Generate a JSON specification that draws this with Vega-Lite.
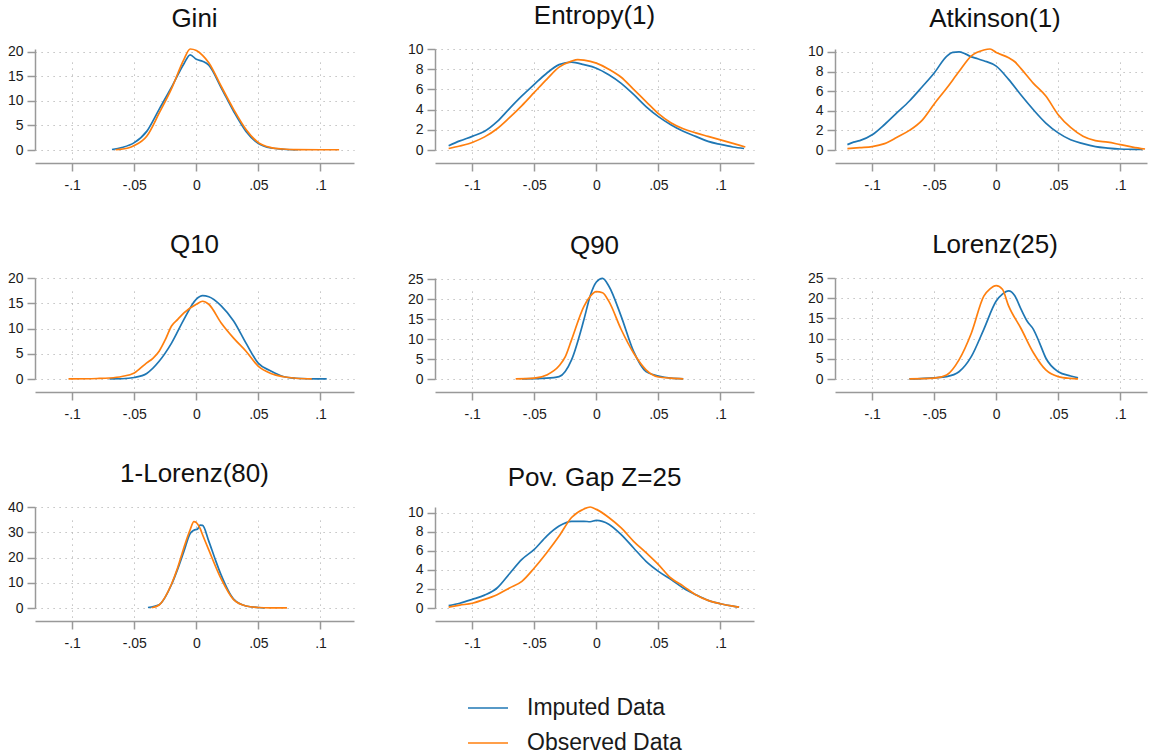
{
"$schema": "https://vega.github.io/schema/vega-lite/v6.json",
"padding": {"left": 7, "top": 3, "right": 0, "bottom": 0},
"data": {"values": [
{"p":"Gini","s":"Imputed Data","x":-0.068,"y":0.1},{"p":"Gini","s":"Imputed Data","x":-0.06,"y":0.5},{"p":"Gini","s":"Imputed Data","x":-0.05,"y":1.5},{"p":"Gini","s":"Imputed Data","x":-0.04,"y":3.8},{"p":"Gini","s":"Imputed Data","x":-0.03,"y":8.3},{"p":"Gini","s":"Imputed Data","x":-0.02,"y":12.8},{"p":"Gini","s":"Imputed Data","x":-0.01,"y":17.6},{"p":"Gini","s":"Imputed Data","x":-0.005,"y":19.4},{"p":"Gini","s":"Imputed Data","x":0,"y":18.5},{"p":"Gini","s":"Imputed Data","x":0.005,"y":18.1},{"p":"Gini","s":"Imputed Data","x":0.01,"y":17.3},{"p":"Gini","s":"Imputed Data","x":0.02,"y":12.7},{"p":"Gini","s":"Imputed Data","x":0.03,"y":7.9},{"p":"Gini","s":"Imputed Data","x":0.04,"y":3.8},{"p":"Gini","s":"Imputed Data","x":0.05,"y":1.3},{"p":"Gini","s":"Imputed Data","x":0.06,"y":0.4},{"p":"Gini","s":"Imputed Data","x":0.07,"y":0.15},{"p":"Gini","s":"Imputed Data","x":0.082,"y":0.05},
{"p":"Gini","s":"Observed Data","x":-0.065,"y":0.05},{"p":"Gini","s":"Observed Data","x":-0.055,"y":0.4},{"p":"Gini","s":"Observed Data","x":-0.05,"y":0.9},{"p":"Gini","s":"Observed Data","x":-0.04,"y":2.8},{"p":"Gini","s":"Observed Data","x":-0.03,"y":7.5},{"p":"Gini","s":"Observed Data","x":-0.02,"y":12.5},{"p":"Gini","s":"Observed Data","x":-0.01,"y":18.5},{"p":"Gini","s":"Observed Data","x":-0.005,"y":20.6},{"p":"Gini","s":"Observed Data","x":0,"y":20.3},{"p":"Gini","s":"Observed Data","x":0.005,"y":19.3},{"p":"Gini","s":"Observed Data","x":0.01,"y":17.8},{"p":"Gini","s":"Observed Data","x":0.02,"y":13.0},{"p":"Gini","s":"Observed Data","x":0.03,"y":8.3},{"p":"Gini","s":"Observed Data","x":0.04,"y":4.2},{"p":"Gini","s":"Observed Data","x":0.05,"y":1.5},{"p":"Gini","s":"Observed Data","x":0.06,"y":0.5},{"p":"Gini","s":"Observed Data","x":0.07,"y":0.2},{"p":"Gini","s":"Observed Data","x":0.08,"y":0.08},{"p":"Gini","s":"Observed Data","x":0.1,"y":0.05},{"p":"Gini","s":"Observed Data","x":0.115,"y":0.05},
{"p":"Entropy(1)","s":"Imputed Data","x":-0.119,"y":0.43},{"p":"Entropy(1)","s":"Imputed Data","x":-0.11,"y":0.9},{"p":"Entropy(1)","s":"Imputed Data","x":-0.1,"y":1.35},{"p":"Entropy(1)","s":"Imputed Data","x":-0.09,"y":1.85},{"p":"Entropy(1)","s":"Imputed Data","x":-0.08,"y":2.8},{"p":"Entropy(1)","s":"Imputed Data","x":-0.07,"y":4.1},{"p":"Entropy(1)","s":"Imputed Data","x":-0.06,"y":5.35},{"p":"Entropy(1)","s":"Imputed Data","x":-0.05,"y":6.5},{"p":"Entropy(1)","s":"Imputed Data","x":-0.04,"y":7.6},{"p":"Entropy(1)","s":"Imputed Data","x":-0.03,"y":8.45},{"p":"Entropy(1)","s":"Imputed Data","x":-0.02,"y":8.7},{"p":"Entropy(1)","s":"Imputed Data","x":-0.01,"y":8.45},{"p":"Entropy(1)","s":"Imputed Data","x":0,"y":8.1},{"p":"Entropy(1)","s":"Imputed Data","x":0.01,"y":7.45},{"p":"Entropy(1)","s":"Imputed Data","x":0.02,"y":6.6},{"p":"Entropy(1)","s":"Imputed Data","x":0.03,"y":5.5},{"p":"Entropy(1)","s":"Imputed Data","x":0.04,"y":4.3},{"p":"Entropy(1)","s":"Imputed Data","x":0.05,"y":3.3},{"p":"Entropy(1)","s":"Imputed Data","x":0.06,"y":2.5},{"p":"Entropy(1)","s":"Imputed Data","x":0.07,"y":1.85},{"p":"Entropy(1)","s":"Imputed Data","x":0.08,"y":1.35},{"p":"Entropy(1)","s":"Imputed Data","x":0.09,"y":0.85},{"p":"Entropy(1)","s":"Imputed Data","x":0.1,"y":0.55},{"p":"Entropy(1)","s":"Imputed Data","x":0.11,"y":0.3},{"p":"Entropy(1)","s":"Imputed Data","x":0.119,"y":0.15},
{"p":"Entropy(1)","s":"Observed Data","x":-0.119,"y":0.15},{"p":"Entropy(1)","s":"Observed Data","x":-0.11,"y":0.4},{"p":"Entropy(1)","s":"Observed Data","x":-0.1,"y":0.75},{"p":"Entropy(1)","s":"Observed Data","x":-0.09,"y":1.3},{"p":"Entropy(1)","s":"Observed Data","x":-0.08,"y":2.1},{"p":"Entropy(1)","s":"Observed Data","x":-0.07,"y":3.2},{"p":"Entropy(1)","s":"Observed Data","x":-0.06,"y":4.4},{"p":"Entropy(1)","s":"Observed Data","x":-0.05,"y":5.7},{"p":"Entropy(1)","s":"Observed Data","x":-0.04,"y":7.0},{"p":"Entropy(1)","s":"Observed Data","x":-0.03,"y":8.2},{"p":"Entropy(1)","s":"Observed Data","x":-0.02,"y":8.8},{"p":"Entropy(1)","s":"Observed Data","x":-0.015,"y":8.95},{"p":"Entropy(1)","s":"Observed Data","x":-0.01,"y":8.9},{"p":"Entropy(1)","s":"Observed Data","x":0,"y":8.6},{"p":"Entropy(1)","s":"Observed Data","x":0.01,"y":8.0},{"p":"Entropy(1)","s":"Observed Data","x":0.02,"y":7.2},{"p":"Entropy(1)","s":"Observed Data","x":0.03,"y":6.0},{"p":"Entropy(1)","s":"Observed Data","x":0.04,"y":4.8},{"p":"Entropy(1)","s":"Observed Data","x":0.05,"y":3.6},{"p":"Entropy(1)","s":"Observed Data","x":0.06,"y":2.7},{"p":"Entropy(1)","s":"Observed Data","x":0.07,"y":2.1},{"p":"Entropy(1)","s":"Observed Data","x":0.08,"y":1.7},{"p":"Entropy(1)","s":"Observed Data","x":0.09,"y":1.35},{"p":"Entropy(1)","s":"Observed Data","x":0.1,"y":1.0},{"p":"Entropy(1)","s":"Observed Data","x":0.11,"y":0.65},{"p":"Entropy(1)","s":"Observed Data","x":0.12,"y":0.3},
{"p":"Atkinson(1)","s":"Imputed Data","x":-0.12,"y":0.55},{"p":"Atkinson(1)","s":"Imputed Data","x":-0.115,"y":0.8},{"p":"Atkinson(1)","s":"Imputed Data","x":-0.11,"y":0.95},{"p":"Atkinson(1)","s":"Imputed Data","x":-0.1,"y":1.55},{"p":"Atkinson(1)","s":"Imputed Data","x":-0.09,"y":2.6},{"p":"Atkinson(1)","s":"Imputed Data","x":-0.08,"y":3.8},{"p":"Atkinson(1)","s":"Imputed Data","x":-0.07,"y":5.0},{"p":"Atkinson(1)","s":"Imputed Data","x":-0.06,"y":6.4},{"p":"Atkinson(1)","s":"Imputed Data","x":-0.05,"y":7.85},{"p":"Atkinson(1)","s":"Imputed Data","x":-0.04,"y":9.55},{"p":"Atkinson(1)","s":"Imputed Data","x":-0.035,"y":9.95},{"p":"Atkinson(1)","s":"Imputed Data","x":-0.03,"y":10.0},{"p":"Atkinson(1)","s":"Imputed Data","x":-0.025,"y":9.8},{"p":"Atkinson(1)","s":"Imputed Data","x":-0.02,"y":9.5},{"p":"Atkinson(1)","s":"Imputed Data","x":-0.015,"y":9.3},{"p":"Atkinson(1)","s":"Imputed Data","x":-0.01,"y":9.1},{"p":"Atkinson(1)","s":"Imputed Data","x":0,"y":8.55},{"p":"Atkinson(1)","s":"Imputed Data","x":0.01,"y":7.2},{"p":"Atkinson(1)","s":"Imputed Data","x":0.02,"y":5.6},{"p":"Atkinson(1)","s":"Imputed Data","x":0.03,"y":4.1},{"p":"Atkinson(1)","s":"Imputed Data","x":0.04,"y":2.75},{"p":"Atkinson(1)","s":"Imputed Data","x":0.05,"y":1.75},{"p":"Atkinson(1)","s":"Imputed Data","x":0.06,"y":1.05},{"p":"Atkinson(1)","s":"Imputed Data","x":0.07,"y":0.65},{"p":"Atkinson(1)","s":"Imputed Data","x":0.08,"y":0.35},{"p":"Atkinson(1)","s":"Imputed Data","x":0.09,"y":0.2},{"p":"Atkinson(1)","s":"Imputed Data","x":0.1,"y":0.1},{"p":"Atkinson(1)","s":"Imputed Data","x":0.11,"y":0.07},{"p":"Atkinson(1)","s":"Imputed Data","x":0.118,"y":0.05},
{"p":"Atkinson(1)","s":"Observed Data","x":-0.12,"y":0.15},{"p":"Atkinson(1)","s":"Observed Data","x":-0.11,"y":0.25},{"p":"Atkinson(1)","s":"Observed Data","x":-0.1,"y":0.35},{"p":"Atkinson(1)","s":"Observed Data","x":-0.09,"y":0.65},{"p":"Atkinson(1)","s":"Observed Data","x":-0.08,"y":1.3},{"p":"Atkinson(1)","s":"Observed Data","x":-0.07,"y":2.0},{"p":"Atkinson(1)","s":"Observed Data","x":-0.06,"y":3.0},{"p":"Atkinson(1)","s":"Observed Data","x":-0.05,"y":4.7},{"p":"Atkinson(1)","s":"Observed Data","x":-0.04,"y":6.3},{"p":"Atkinson(1)","s":"Observed Data","x":-0.03,"y":8.0},{"p":"Atkinson(1)","s":"Observed Data","x":-0.02,"y":9.6},{"p":"Atkinson(1)","s":"Observed Data","x":-0.01,"y":10.2},{"p":"Atkinson(1)","s":"Observed Data","x":-0.005,"y":10.3},{"p":"Atkinson(1)","s":"Observed Data","x":0,"y":9.95},{"p":"Atkinson(1)","s":"Observed Data","x":0.01,"y":9.4},{"p":"Atkinson(1)","s":"Observed Data","x":0.015,"y":9.0},{"p":"Atkinson(1)","s":"Observed Data","x":0.02,"y":8.3},{"p":"Atkinson(1)","s":"Observed Data","x":0.03,"y":6.8},{"p":"Atkinson(1)","s":"Observed Data","x":0.04,"y":5.5},{"p":"Atkinson(1)","s":"Observed Data","x":0.05,"y":3.6},{"p":"Atkinson(1)","s":"Observed Data","x":0.06,"y":2.3},{"p":"Atkinson(1)","s":"Observed Data","x":0.07,"y":1.4},{"p":"Atkinson(1)","s":"Observed Data","x":0.08,"y":0.95},{"p":"Atkinson(1)","s":"Observed Data","x":0.09,"y":0.8},{"p":"Atkinson(1)","s":"Observed Data","x":0.1,"y":0.55},{"p":"Atkinson(1)","s":"Observed Data","x":0.11,"y":0.3},{"p":"Atkinson(1)","s":"Observed Data","x":0.12,"y":0.1},
{"p":"Q10","s":"Imputed Data","x":-0.07,"y":0.02},{"p":"Q10","s":"Imputed Data","x":-0.06,"y":0.05},{"p":"Q10","s":"Imputed Data","x":-0.05,"y":0.3},{"p":"Q10","s":"Imputed Data","x":-0.04,"y":1.1},{"p":"Q10","s":"Imputed Data","x":-0.03,"y":3.5},{"p":"Q10","s":"Imputed Data","x":-0.02,"y":7.1},{"p":"Q10","s":"Imputed Data","x":-0.01,"y":11.8},{"p":"Q10","s":"Imputed Data","x":0,"y":15.8},{"p":"Q10","s":"Imputed Data","x":0.005,"y":16.5},{"p":"Q10","s":"Imputed Data","x":0.01,"y":16.3},{"p":"Q10","s":"Imputed Data","x":0.02,"y":14.5},{"p":"Q10","s":"Imputed Data","x":0.03,"y":11.5},{"p":"Q10","s":"Imputed Data","x":0.04,"y":7.1},{"p":"Q10","s":"Imputed Data","x":0.05,"y":3.1},{"p":"Q10","s":"Imputed Data","x":0.06,"y":1.6},{"p":"Q10","s":"Imputed Data","x":0.07,"y":0.5},{"p":"Q10","s":"Imputed Data","x":0.08,"y":0.15},{"p":"Q10","s":"Imputed Data","x":0.09,"y":0.05},{"p":"Q10","s":"Imputed Data","x":0.105,"y":0.02},
{"p":"Q10","s":"Observed Data","x":-0.103,"y":0.02},{"p":"Q10","s":"Observed Data","x":-0.08,"y":0.1},{"p":"Q10","s":"Observed Data","x":-0.07,"y":0.2},{"p":"Q10","s":"Observed Data","x":-0.06,"y":0.5},{"p":"Q10","s":"Observed Data","x":-0.05,"y":1.2},{"p":"Q10","s":"Observed Data","x":-0.04,"y":3.2},{"p":"Q10","s":"Observed Data","x":-0.035,"y":4.1},{"p":"Q10","s":"Observed Data","x":-0.03,"y":5.5},{"p":"Q10","s":"Observed Data","x":-0.025,"y":7.8},{"p":"Q10","s":"Observed Data","x":-0.02,"y":10.5},{"p":"Q10","s":"Observed Data","x":-0.015,"y":11.8},{"p":"Q10","s":"Observed Data","x":-0.01,"y":13.1},{"p":"Q10","s":"Observed Data","x":0,"y":14.8},{"p":"Q10","s":"Observed Data","x":0.005,"y":15.4},{"p":"Q10","s":"Observed Data","x":0.01,"y":14.8},{"p":"Q10","s":"Observed Data","x":0.02,"y":11.1},{"p":"Q10","s":"Observed Data","x":0.03,"y":8.1},{"p":"Q10","s":"Observed Data","x":0.04,"y":5.5},{"p":"Q10","s":"Observed Data","x":0.05,"y":2.5},{"p":"Q10","s":"Observed Data","x":0.06,"y":1.1},{"p":"Q10","s":"Observed Data","x":0.07,"y":0.45},{"p":"Q10","s":"Observed Data","x":0.08,"y":0.15},{"p":"Q10","s":"Observed Data","x":0.093,"y":0.03},
{"p":"Q90","s":"Imputed Data","x":-0.06,"y":0.02},{"p":"Q90","s":"Imputed Data","x":-0.04,"y":0.2},{"p":"Q90","s":"Imputed Data","x":-0.03,"y":0.6},{"p":"Q90","s":"Imputed Data","x":-0.02,"y":4.8},{"p":"Q90","s":"Imputed Data","x":-0.01,"y":14.9},{"p":"Q90","s":"Imputed Data","x":-0.005,"y":20.8},{"p":"Q90","s":"Imputed Data","x":0,"y":24.3},{"p":"Q90","s":"Imputed Data","x":0.005,"y":25.2},{"p":"Q90","s":"Imputed Data","x":0.01,"y":23.3},{"p":"Q90","s":"Imputed Data","x":0.02,"y":15.7},{"p":"Q90","s":"Imputed Data","x":0.03,"y":6.9},{"p":"Q90","s":"Imputed Data","x":0.04,"y":1.85},{"p":"Q90","s":"Imputed Data","x":0.05,"y":0.75},{"p":"Q90","s":"Imputed Data","x":0.06,"y":0.2},{"p":"Q90","s":"Imputed Data","x":0.07,"y":0.05},
{"p":"Q90","s":"Observed Data","x":-0.065,"y":0.02},{"p":"Q90","s":"Observed Data","x":-0.05,"y":0.2},{"p":"Q90","s":"Observed Data","x":-0.04,"y":1.0},{"p":"Q90","s":"Observed Data","x":-0.03,"y":3.3},{"p":"Q90","s":"Observed Data","x":-0.025,"y":5.6},{"p":"Q90","s":"Observed Data","x":-0.02,"y":9.8},{"p":"Q90","s":"Observed Data","x":-0.01,"y":18.2},{"p":"Q90","s":"Observed Data","x":-0.005,"y":20.7},{"p":"Q90","s":"Observed Data","x":0,"y":21.9},{"p":"Q90","s":"Observed Data","x":0.005,"y":21.6},{"p":"Q90","s":"Observed Data","x":0.01,"y":19.5},{"p":"Q90","s":"Observed Data","x":0.02,"y":12.4},{"p":"Q90","s":"Observed Data","x":0.03,"y":6.5},{"p":"Q90","s":"Observed Data","x":0.04,"y":2.3},{"p":"Q90","s":"Observed Data","x":0.05,"y":0.5},{"p":"Q90","s":"Observed Data","x":0.06,"y":0.2},{"p":"Q90","s":"Observed Data","x":0.07,"y":0.05},
{"p":"Lorenz(25)","s":"Imputed Data","x":-0.07,"y":0.02},{"p":"Lorenz(25)","s":"Imputed Data","x":-0.05,"y":0.3},{"p":"Lorenz(25)","s":"Imputed Data","x":-0.04,"y":0.6},{"p":"Lorenz(25)","s":"Imputed Data","x":-0.03,"y":1.8},{"p":"Lorenz(25)","s":"Imputed Data","x":-0.02,"y":5.6},{"p":"Lorenz(25)","s":"Imputed Data","x":-0.01,"y":12.3},{"p":"Lorenz(25)","s":"Imputed Data","x":0,"y":19.3},{"p":"Lorenz(25)","s":"Imputed Data","x":0.005,"y":21.0},{"p":"Lorenz(25)","s":"Imputed Data","x":0.01,"y":21.8},{"p":"Lorenz(25)","s":"Imputed Data","x":0.015,"y":20.6},{"p":"Lorenz(25)","s":"Imputed Data","x":0.02,"y":17.3},{"p":"Lorenz(25)","s":"Imputed Data","x":0.025,"y":14.3},{"p":"Lorenz(25)","s":"Imputed Data","x":0.03,"y":12.3},{"p":"Lorenz(25)","s":"Imputed Data","x":0.035,"y":8.9},{"p":"Lorenz(25)","s":"Imputed Data","x":0.04,"y":5.2},{"p":"Lorenz(25)","s":"Imputed Data","x":0.05,"y":1.8},{"p":"Lorenz(25)","s":"Imputed Data","x":0.06,"y":0.75},{"p":"Lorenz(25)","s":"Imputed Data","x":0.066,"y":0.3},
{"p":"Lorenz(25)","s":"Observed Data","x":-0.07,"y":0.02},{"p":"Lorenz(25)","s":"Observed Data","x":-0.05,"y":0.2},{"p":"Lorenz(25)","s":"Observed Data","x":-0.04,"y":1.0},{"p":"Lorenz(25)","s":"Observed Data","x":-0.03,"y":4.75},{"p":"Lorenz(25)","s":"Observed Data","x":-0.02,"y":11.4},{"p":"Lorenz(25)","s":"Observed Data","x":-0.01,"y":20.5},{"p":"Lorenz(25)","s":"Observed Data","x":-0.005,"y":22.3},{"p":"Lorenz(25)","s":"Observed Data","x":0,"y":23.1},{"p":"Lorenz(25)","s":"Observed Data","x":0.005,"y":22.2},{"p":"Lorenz(25)","s":"Observed Data","x":0.01,"y":18.1},{"p":"Lorenz(25)","s":"Observed Data","x":0.02,"y":12.5},{"p":"Lorenz(25)","s":"Observed Data","x":0.03,"y":6.5},{"p":"Lorenz(25)","s":"Observed Data","x":0.04,"y":2.25},{"p":"Lorenz(25)","s":"Observed Data","x":0.05,"y":0.6},{"p":"Lorenz(25)","s":"Observed Data","x":0.06,"y":0.15},{"p":"Lorenz(25)","s":"Observed Data","x":0.066,"y":0.05},
{"p":"1-Lorenz(80)","s":"Imputed Data","x":-0.039,"y":0.2},{"p":"1-Lorenz(80)","s":"Imputed Data","x":-0.03,"y":1.3},{"p":"1-Lorenz(80)","s":"Imputed Data","x":-0.02,"y":9.3},{"p":"1-Lorenz(80)","s":"Imputed Data","x":-0.015,"y":15.5},{"p":"1-Lorenz(80)","s":"Imputed Data","x":-0.01,"y":22.5},{"p":"1-Lorenz(80)","s":"Imputed Data","x":-0.005,"y":29.5},{"p":"1-Lorenz(80)","s":"Imputed Data","x":-0.002,"y":30.8},{"p":"1-Lorenz(80)","s":"Imputed Data","x":0.001,"y":31.3},{"p":"1-Lorenz(80)","s":"Imputed Data","x":0.003,"y":32.8},{"p":"1-Lorenz(80)","s":"Imputed Data","x":0.005,"y":32.7},{"p":"1-Lorenz(80)","s":"Imputed Data","x":0.01,"y":26.5},{"p":"1-Lorenz(80)","s":"Imputed Data","x":0.015,"y":19.5},{"p":"1-Lorenz(80)","s":"Imputed Data","x":0.02,"y":13},{"p":"1-Lorenz(80)","s":"Imputed Data","x":0.03,"y":3.5},{"p":"1-Lorenz(80)","s":"Imputed Data","x":0.04,"y":0.8},{"p":"1-Lorenz(80)","s":"Imputed Data","x":0.05,"y":0.2},{"p":"1-Lorenz(80)","s":"Imputed Data","x":0.055,"y":0.05},
{"p":"1-Lorenz(80)","s":"Observed Data","x":-0.036,"y":0.1},{"p":"1-Lorenz(80)","s":"Observed Data","x":-0.03,"y":1.2},{"p":"1-Lorenz(80)","s":"Observed Data","x":-0.02,"y":9.5},{"p":"1-Lorenz(80)","s":"Observed Data","x":-0.015,"y":16},{"p":"1-Lorenz(80)","s":"Observed Data","x":-0.01,"y":24},{"p":"1-Lorenz(80)","s":"Observed Data","x":-0.005,"y":31},{"p":"1-Lorenz(80)","s":"Observed Data","x":-0.002,"y":34.2},{"p":"1-Lorenz(80)","s":"Observed Data","x":0,"y":33.8},{"p":"1-Lorenz(80)","s":"Observed Data","x":0.003,"y":31.5},{"p":"1-Lorenz(80)","s":"Observed Data","x":0.005,"y":29},{"p":"1-Lorenz(80)","s":"Observed Data","x":0.01,"y":23},{"p":"1-Lorenz(80)","s":"Observed Data","x":0.02,"y":11.5},{"p":"1-Lorenz(80)","s":"Observed Data","x":0.03,"y":3.3},{"p":"1-Lorenz(80)","s":"Observed Data","x":0.04,"y":0.8},{"p":"1-Lorenz(80)","s":"Observed Data","x":0.05,"y":0.2},{"p":"1-Lorenz(80)","s":"Observed Data","x":0.06,"y":0.05},{"p":"1-Lorenz(80)","s":"Observed Data","x":0.073,"y":0.02},
{"p":"Pov. Gap Z=25","s":"Imputed Data","x":-0.119,"y":0.25},{"p":"Pov. Gap Z=25","s":"Imputed Data","x":-0.11,"y":0.5},{"p":"Pov. Gap Z=25","s":"Imputed Data","x":-0.1,"y":0.9},{"p":"Pov. Gap Z=25","s":"Imputed Data","x":-0.09,"y":1.35},{"p":"Pov. Gap Z=25","s":"Imputed Data","x":-0.08,"y":2.1},{"p":"Pov. Gap Z=25","s":"Imputed Data","x":-0.07,"y":3.6},{"p":"Pov. Gap Z=25","s":"Imputed Data","x":-0.06,"y":5.1},{"p":"Pov. Gap Z=25","s":"Imputed Data","x":-0.05,"y":6.15},{"p":"Pov. Gap Z=25","s":"Imputed Data","x":-0.04,"y":7.55},{"p":"Pov. Gap Z=25","s":"Imputed Data","x":-0.03,"y":8.6},{"p":"Pov. Gap Z=25","s":"Imputed Data","x":-0.02,"y":9.1},{"p":"Pov. Gap Z=25","s":"Imputed Data","x":-0.01,"y":9.1},{"p":"Pov. Gap Z=25","s":"Imputed Data","x":-0.005,"y":9.05},{"p":"Pov. Gap Z=25","s":"Imputed Data","x":0,"y":9.2},{"p":"Pov. Gap Z=25","s":"Imputed Data","x":0.01,"y":8.8},{"p":"Pov. Gap Z=25","s":"Imputed Data","x":0.02,"y":7.7},{"p":"Pov. Gap Z=25","s":"Imputed Data","x":0.03,"y":6.3},{"p":"Pov. Gap Z=25","s":"Imputed Data","x":0.04,"y":4.9},{"p":"Pov. Gap Z=25","s":"Imputed Data","x":0.05,"y":3.85},{"p":"Pov. Gap Z=25","s":"Imputed Data","x":0.06,"y":3.0},{"p":"Pov. Gap Z=25","s":"Imputed Data","x":0.07,"y":2.1},{"p":"Pov. Gap Z=25","s":"Imputed Data","x":0.08,"y":1.4},{"p":"Pov. Gap Z=25","s":"Imputed Data","x":0.09,"y":0.8},{"p":"Pov. Gap Z=25","s":"Imputed Data","x":0.1,"y":0.45},{"p":"Pov. Gap Z=25","s":"Imputed Data","x":0.11,"y":0.2},{"p":"Pov. Gap Z=25","s":"Imputed Data","x":0.115,"y":0.1},
{"p":"Pov. Gap Z=25","s":"Observed Data","x":-0.119,"y":0.1},{"p":"Pov. Gap Z=25","s":"Observed Data","x":-0.11,"y":0.3},{"p":"Pov. Gap Z=25","s":"Observed Data","x":-0.1,"y":0.5},{"p":"Pov. Gap Z=25","s":"Observed Data","x":-0.09,"y":0.9},{"p":"Pov. Gap Z=25","s":"Observed Data","x":-0.08,"y":1.4},{"p":"Pov. Gap Z=25","s":"Observed Data","x":-0.07,"y":2.1},{"p":"Pov. Gap Z=25","s":"Observed Data","x":-0.06,"y":2.8},{"p":"Pov. Gap Z=25","s":"Observed Data","x":-0.05,"y":4.2},{"p":"Pov. Gap Z=25","s":"Observed Data","x":-0.04,"y":5.8},{"p":"Pov. Gap Z=25","s":"Observed Data","x":-0.03,"y":7.55},{"p":"Pov. Gap Z=25","s":"Observed Data","x":-0.02,"y":9.5},{"p":"Pov. Gap Z=25","s":"Observed Data","x":-0.01,"y":10.4},{"p":"Pov. Gap Z=25","s":"Observed Data","x":-0.005,"y":10.6},{"p":"Pov. Gap Z=25","s":"Observed Data","x":0,"y":10.35},{"p":"Pov. Gap Z=25","s":"Observed Data","x":0.01,"y":9.5},{"p":"Pov. Gap Z=25","s":"Observed Data","x":0.02,"y":8.4},{"p":"Pov. Gap Z=25","s":"Observed Data","x":0.03,"y":7.0},{"p":"Pov. Gap Z=25","s":"Observed Data","x":0.04,"y":5.8},{"p":"Pov. Gap Z=25","s":"Observed Data","x":0.05,"y":4.55},{"p":"Pov. Gap Z=25","s":"Observed Data","x":0.06,"y":3.15},{"p":"Pov. Gap Z=25","s":"Observed Data","x":0.07,"y":2.3},{"p":"Pov. Gap Z=25","s":"Observed Data","x":0.08,"y":1.4},{"p":"Pov. Gap Z=25","s":"Observed Data","x":0.09,"y":0.8},{"p":"Pov. Gap Z=25","s":"Observed Data","x":0.1,"y":0.45},{"p":"Pov. Gap Z=25","s":"Observed Data","x":0.11,"y":0.2},{"p":"Pov. Gap Z=25","s":"Observed Data","x":0.115,"y":0.1}
]},
"columns": 3,
"spacing": {"row": 128, "column": 81},
"bounds": "flush",
"resolve": {"scale": {"x": "independent", "y": "independent", "color": "shared"}, "legend": {"color": "shared"}},
"concat": [
{"title": "Gini", "width": 319, "height": 101, "transform": [{"filter": "datum.p === 'Gini'"}], "mark": {"type": "line", "interpolate": "monotone"},
 "encoding": {"x": {"field": "x", "type": "quantitative", "title": null, "scale": {"domain": [-0.13, 0.127], "nice": false, "zero": false}, "axis": {"values": [-0.1, -0.05, 0, 0.05, 0.1], "labelExpr": "replace(toString(datum.value), '0.', '.')"}},
  "y": {"field": "y", "type": "quantitative", "title": null, "scale": {"domain": [0, 20.6], "nice": false}, "axis": {"values": [0, 5, 10, 15, 20]}},
  "color": {"field": "s", "type": "nominal", "scale": {"domain": ["Imputed Data", "Observed Data"], "range": ["#1f77b4", "#ff7f0e"]}}}},
{"title": "Entropy(1)", "width": 319, "height": 101, "transform": [{"filter": "datum.p === 'Entropy(1)'"}], "mark": {"type": "line", "interpolate": "monotone"},
 "encoding": {"x": {"field": "x", "type": "quantitative", "title": null, "scale": {"domain": [-0.13, 0.127], "nice": false, "zero": false}, "axis": {"values": [-0.1, -0.05, 0, 0.05, 0.1], "labelExpr": "replace(toString(datum.value), '0.', '.')"}},
  "y": {"field": "y", "type": "quantitative", "title": null, "scale": {"domain": [0, 10], "nice": false}, "axis": {"values": [0, 2, 4, 6, 8, 10]}},
  "color": {"field": "s", "type": "nominal", "scale": {"domain": ["Imputed Data", "Observed Data"], "range": ["#1f77b4", "#ff7f0e"]}}}},
{"title": {"text": "Atkinson(1)", "dx": 4}, "width": 312, "height": 101, "transform": [{"filter": "datum.p === 'Atkinson(1)'"}], "mark": {"type": "line", "interpolate": "monotone"},
 "encoding": {"x": {"field": "x", "type": "quantitative", "title": null, "scale": {"domain": [-0.13, 0.1216], "nice": false, "zero": false}, "axis": {"values": [-0.1, -0.05, 0, 0.05, 0.1], "labelExpr": "replace(toString(datum.value), '0.', '.')"}},
  "y": {"field": "y", "type": "quantitative", "title": null, "scale": {"domain": [0, 10.3], "nice": false}, "axis": {"values": [0, 2, 4, 6, 8, 10]}},
  "color": {"field": "s", "type": "nominal", "scale": {"domain": ["Imputed Data", "Observed Data"], "range": ["#1f77b4", "#ff7f0e"]}}}},
{"title": "Q10", "width": 319, "height": 101, "transform": [{"filter": "datum.p === 'Q10'"}], "mark": {"type": "line", "interpolate": "monotone"},
 "encoding": {"x": {"field": "x", "type": "quantitative", "title": null, "scale": {"domain": [-0.13, 0.127], "nice": false, "zero": false}, "axis": {"values": [-0.1, -0.05, 0, 0.05, 0.1], "labelExpr": "replace(toString(datum.value), '0.', '.')"}},
  "y": {"field": "y", "type": "quantitative", "title": null, "scale": {"domain": [0, 20], "nice": false}, "axis": {"values": [0, 5, 10, 15, 20]}},
  "color": {"field": "s", "type": "nominal", "scale": {"domain": ["Imputed Data", "Observed Data"], "range": ["#1f77b4", "#ff7f0e"]}}}},
{"title": "Q90", "width": 319, "height": 101, "transform": [{"filter": "datum.p === 'Q90'"}], "mark": {"type": "line", "interpolate": "monotone"},
 "encoding": {"x": {"field": "x", "type": "quantitative", "title": null, "scale": {"domain": [-0.13, 0.127], "nice": false, "zero": false}, "axis": {"values": [-0.1, -0.05, 0, 0.05, 0.1], "labelExpr": "replace(toString(datum.value), '0.', '.')"}},
  "y": {"field": "y", "type": "quantitative", "title": null, "scale": {"domain": [0, 25.3], "nice": false}, "axis": {"values": [0, 5, 10, 15, 20, 25]}},
  "color": {"field": "s", "type": "nominal", "scale": {"domain": ["Imputed Data", "Observed Data"], "range": ["#1f77b4", "#ff7f0e"]}}}},
{"title": {"text": "Lorenz(25)", "dx": 4}, "width": 312, "height": 101, "transform": [{"filter": "datum.p === 'Lorenz(25)'"}], "mark": {"type": "line", "interpolate": "monotone"},
 "encoding": {"x": {"field": "x", "type": "quantitative", "title": null, "scale": {"domain": [-0.13, 0.1216], "nice": false, "zero": false}, "axis": {"values": [-0.1, -0.05, 0, 0.05, 0.1], "labelExpr": "replace(toString(datum.value), '0.', '.')"}},
  "y": {"field": "y", "type": "quantitative", "title": null, "scale": {"domain": [0, 25], "nice": false}, "axis": {"values": [0, 5, 10, 15, 20, 25]}},
  "color": {"field": "s", "type": "nominal", "scale": {"domain": ["Imputed Data", "Observed Data"], "range": ["#1f77b4", "#ff7f0e"]}}}},
{"title": "1-Lorenz(80)", "width": 319, "height": 101, "transform": [{"filter": "datum.p === '1-Lorenz(80)'"}], "mark": {"type": "line", "interpolate": "monotone"},
 "encoding": {"x": {"field": "x", "type": "quantitative", "title": null, "scale": {"domain": [-0.13, 0.127], "nice": false, "zero": false}, "axis": {"values": [-0.1, -0.05, 0, 0.05, 0.1], "labelExpr": "replace(toString(datum.value), '0.', '.')"}},
  "y": {"field": "y", "type": "quantitative", "title": null, "scale": {"domain": [0, 40], "nice": false}, "axis": {"values": [0, 10, 20, 30, 40]}},
  "color": {"field": "s", "type": "nominal", "scale": {"domain": ["Imputed Data", "Observed Data"], "range": ["#1f77b4", "#ff7f0e"]}}}},
{"title": "Pov. Gap Z=25", "width": 319, "height": 101, "transform": [{"filter": "datum.p === 'Pov. Gap Z=25'"}], "mark": {"type": "line", "interpolate": "monotone"},
 "encoding": {"x": {"field": "x", "type": "quantitative", "title": null, "scale": {"domain": [-0.13, 0.127], "nice": false, "zero": false}, "axis": {"values": [-0.1, -0.05, 0, 0.05, 0.1], "labelExpr": "replace(toString(datum.value), '0.', '.')"}},
  "y": {"field": "y", "type": "quantitative", "title": null, "scale": {"domain": [0, 10.6], "nice": false}, "axis": {"values": [0, 2, 4, 6, 8, 10]}},
  "color": {"field": "s", "type": "nominal", "title": null, "scale": {"domain": ["Imputed Data", "Observed Data"], "range": ["#1f77b4", "#ff7f0e"]},
   "legend": {"orient": "none", "legendX": 432, "legendY": 638, "direction": "vertical", "title": null}}}}
],
"config": {
 "font": "Liberation Sans",
 "view": {"stroke": null},
 "line": {"strokeWidth": 1.7},
 "axis": {"domainColor": "#999999", "domainWidth": 1.5, "tickColor": "#999999", "tickWidth": 1.5, "tickSize": 8, "labelFontSize": 14, "labelColor": "#1a1a1a", "labelFont": "Liberation Sans", "gridColor": "#b0b0b0", "gridDash": [1.2, 4.8], "gridWidth": 1, "labelPadding": 4},
 "axisX": {"offset": 13, "labelPadding": 7, "labelFlush": false},
 "axisY": {"labelPadding": 4},
 "title": {"fontSize": 26, "fontWeight": "normal", "color": "#111111", "offset": 13, "font": "Liberation Sans"},
 "legend": {"symbolType": "stroke", "symbolSize": 1600, "symbolStrokeWidth": 2, "labelFontSize": 23, "labelColor": "#1a1a1a", "labelOffset": 18, "rowPadding": 2, "padding": 0, "labelFont": "Liberation Sans"}
}
}
